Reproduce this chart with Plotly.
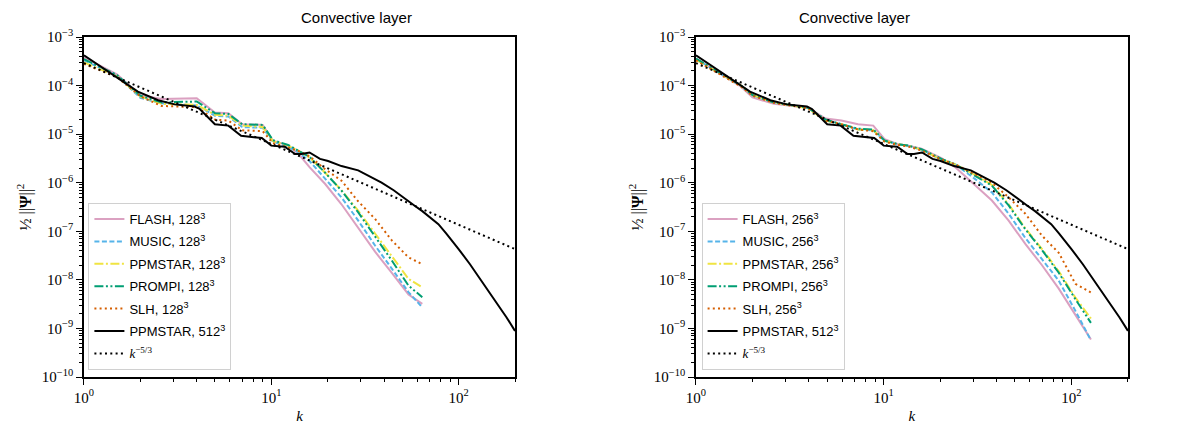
import plotly.graph_objects as go

# Kinetic energy spectra, convective layer

# PPMSTAR 512^3 (same curve on both panels)
k_ref = [1, 1.3, 1.94, 2.49, 3.05, 3.9, 4.15, 5.0, 5.9, 6.9, 8.9, 10.0, 11.8, 13.4,
         14.5, 16.0, 18.2, 20.1, 23.7, 29.1, 35.8, 38.8, 45, 51.8, 58, 64, 71, 78, 86,
         93, 100, 115, 128, 145, 160, 180, 200]
v_ref = [4.2e-4, 2.1e-4, 7.5e-5, 5.0e-5, 4.1e-5, 3.7e-5, 3.3e-5, 1.6e-5, 1.5e-5, 9.3e-6,
         8.3e-6, 5.8e-6, 5.5e-6, 3.9e-6, 3.9e-6, 4.2e-6, 3.1e-6, 2.8e-6, 2.2e-6, 1.8e-6,
         1.2e-6, 1.0e-6, 7.0e-7, 4.6e-7, 3.4e-7, 2.6e-7, 1.9e-7, 1.4e-7, 9.0e-8,
         6.2e-8, 4.3e-8, 2.1e-8, 1.15e-8, 5.8e-9, 3.4e-9, 1.7e-9, 8.9e-10]

# k^-5/3 guide line (end points)
k_kol = [1, 200]
v_kol = [2.9e-4, 4.3e-8]

# 128^3 runs (left panel)
k_128 = [1, 1.5, 2, 2.6, 4.0, 5.0, 5.9, 7.0, 9.0, 10.2, 12.3, 14, 16, 19.4, 23.7, 29,
         35.8, 44, 54, 64]
flash_128 = [3.8e-4, 1.7e-4, 6.3e-5, 5.3e-5, 5.5e-5, 2.8e-5, 2.7e-5, 1.6e-5, 1.55e-5,
             7.3e-6, 5.8e-6, 3.9e-6, 2.1e-6, 9.4e-7, 3.6e-7, 1.2e-7, 3.8e-8, 1.4e-8,
             5.0e-9, 3.2e-9]
music_128 = [3.3e-4, 1.6e-4, 5.6e-5, 4.3e-5, 3.9e-5, 2.4e-5, 2.3e-5, 1.4e-5, 1.35e-5,
             7.0e-6, 5.5e-6, 4.2e-6, 2.8e-6, 1.2e-6, 5.0e-7, 1.7e-7, 5.1e-8, 1.7e-8,
             5.6e-9, 2.7e-9]
ppmstar_128 = [3.0e-4, 1.55e-4, 6.0e-5, 4.2e-5, 4.0e-5, 2.5e-5, 2.4e-5, 1.5e-5, 1.4e-5,
               7.2e-6, 5.8e-6, 4.5e-6, 3.3e-6, 1.6e-6, 7.0e-7, 2.7e-7, 9.0e-8, 3.0e-8,
               1.05e-8, 7.0e-9]
prompi_128 = [3.5e-4, 1.65e-4, 6.2e-5, 4.5e-5, 4.7e-5, 2.7e-5, 2.6e-5, 1.6e-5, 1.55e-5,
              7.5e-6, 6.0e-6, 4.6e-6, 3.4e-6, 1.6e-6, 6.9e-7, 2.5e-7, 8.0e-8, 2.5e-8,
              7.6e-9, 4.4e-9]
slh_128 = [2.8e-4, 1.5e-4, 6.0e-5, 3.8e-5, 3.6e-5, 2.0e-5, 1.9e-5, 1.2e-5, 1.15e-5,
           6.5e-6, 5.3e-6, 4.5e-6, 3.5e-6, 1.9e-6, 1.1e-6, 4.2e-7, 1.8e-7, 6.5e-8,
           2.9e-8, 2.1e-8]

# 256^3 runs (right panel)
k_256 = [1, 1.74, 2, 2.6, 3.95, 4.9, 5.95, 7.3, 8.8, 10.1, 11.9, 13.5, 15.9, 20.3, 24,
         30.6, 37.7, 46.3, 56.8, 69.7, 85.6, 105, 127]
flash_256 = [3.6e-4, 9.5e-5, 5.7e-5, 4.2e-5, 3.5e-5, 2.1e-5, 1.9e-5, 1.6e-5, 1.5e-5,
             7.9e-6, 6.2e-6, 5.8e-6, 5.0e-6, 3.2e-6, 2.1e-6, 9.0e-7, 4.3e-7, 1.66e-7,
             5.5e-8, 2.0e-8, 6.6e-9, 1.9e-9, 5.9e-10]
music_256 = [3.5e-4, 1.0e-4, 6.3e-5, 4.5e-5, 3.5e-5, 1.9e-5, 1.6e-5, 1.25e-5, 1.2e-5,
             7.3e-6, 6.2e-6, 5.8e-6, 4.7e-6, 3.0e-6, 2.4e-6, 1.2e-6, 6.3e-7, 2.3e-7,
             7.3e-8, 2.7e-8, 9.6e-9, 2.3e-9, 5.7e-10]
ppmstar_256 = [3.4e-4, 1.0e-4, 6.4e-5, 4.5e-5, 3.4e-5, 1.9e-5, 1.6e-5, 1.25e-5, 1.2e-5,
               7.3e-6, 6.2e-6, 5.8e-6, 4.8e-6, 3.0e-6, 2.4e-6, 1.45e-6, 9.0e-7, 3.6e-7,
               1.15e-7, 4.3e-8, 1.5e-8, 4.3e-9, 1.6e-9]
prompi_256 = [3.6e-4, 1.0e-4, 6.4e-5, 4.5e-5, 3.5e-5, 2.0e-5, 1.6e-5, 1.3e-5, 1.25e-5,
              7.4e-6, 6.2e-6, 5.8e-6, 4.9e-6, 3.1e-6, 2.4e-6, 1.4e-6, 8.7e-7, 3.4e-7,
              1.1e-7, 4.1e-8, 1.4e-8, 4.0e-9, 1.3e-9]
slh_256 = [3.3e-4, 9.5e-5, 6.2e-5, 4.4e-5, 3.4e-5, 1.9e-5, 1.6e-5, 1.25e-5, 1.15e-5,
           7.0e-6, 6.0e-6, 5.6e-6, 4.6e-6, 3.0e-6, 2.4e-6, 1.5e-6, 1.0e-6, 5.0e-7,
           2.3e-7, 8.1e-8, 3.6e-8, 8.3e-9, 5.5e-9]

names = ["FLASH", "MUSIC", "PPMSTAR", "PROMPI", "SLH"]
colors = ["#cc79a7", "#56b4e9", "#f0e442", "#009e73", "#d55e00"]
dashes = ["solid", "5px,2.5px", "9px,2.5px,2px,2.5px", "9px,2.5px,2px,2.5px,2px,2.5px",
          "2px,3.2px"]
opac = [0.7, 1, 1, 1, 1]

serif = "Liberation Serif, Times New Roman, serif"
sans = "Liberation Sans, Arial, sans-serif"

panels = [
    (1, k_128, [flash_128, music_128, ppmstar_128, prompi_128, slh_128], "128", "legend"),
    (2, k_256, [flash_256, music_256, ppmstar_256, prompi_256, slh_256], "256", "legend2"),
]

fig = go.Figure()
for idx, kk, series, res, leg in panels:
    xa = "x" if idx == 1 else "x2"
    ya = "y" if idx == 1 else "y2"
    for name, col, dash, op, vals in zip(names, colors, dashes, opac, series):
        fig.add_trace(go.Scatter(
            x=kk, y=vals, mode="lines", name=f"{name}, {res}<sup>3</sup>",
            line=dict(color=col, width=2, dash=dash), opacity=op,
            xaxis=xa, yaxis=ya, legend=leg, legendgroup=f"{leg}_{name}"))
    fig.add_trace(go.Scatter(
        x=k_ref, y=v_ref, mode="lines", name="PPMSTAR, 512<sup>3</sup>",
        line=dict(color="black", width=2), xaxis=xa, yaxis=ya,
        legend=leg, legendgroup=f"{leg}_ref"))
    fig.add_trace(go.Scatter(
        x=k_kol, y=v_kol, mode="lines",
        name=f'<span style="font-family:{serif}"><i>k</i><sup>−5/3</sup></span>',
        line=dict(color="black", width=2, dash="2px,3.3px"), xaxis=xa, yaxis=ya,
        legend=leg, legendgroup=f"{leg}_kol"))

x_major = [1, 10, 100]
x_major_txt = ["10<sup>0</sup>", "10<sup>1</sup>", "10<sup>2</sup>"]
x_minor = [m * d for d in (1, 10) for m in range(2, 10)] + [200]
y_major = [10.0 ** e for e in range(-10, -2)]
y_major_txt = [f"10<sup>\u2212{-e}</sup>" for e in range(-10, -2)]
y_minor = [m * 10.0 ** e for e in range(-10, -3) for m in range(2, 10)]

xcommon = dict(
    type="log", range=[0, 2.30103], tickmode="array", tickvals=x_major, ticktext=x_major_txt,
    ticks="outside", ticklen=6, tickwidth=1.2, tickcolor="black", automargin=False,
    minor=dict(tickmode="array", tickvals=x_minor, ticks="outside", ticklen=3,
               tickwidth=1, tickcolor="black", showgrid=False),
    showline=True, linecolor="black", linewidth=1.5, mirror=True, showgrid=False,
    zeroline=False, tickfont=dict(family=serif, size=15, color="black"),
    title=dict(text="<i>k</i>", font=dict(family=serif, size=15, color="black"), standoff=6),
)
ycommon = dict(
    type="log", range=[-10, -3], tickmode="array", tickvals=y_major, ticktext=y_major_txt,
    ticks="outside", ticklen=6, tickwidth=1.2, tickcolor="black", automargin=False,
    minor=dict(tickmode="array", tickvals=y_minor, ticks="outside", ticklen=3,
               tickwidth=1, tickcolor="black", showgrid=False),
    showline=True, linecolor="black", linewidth=1.5, mirror=True, showgrid=False,
    zeroline=False, tickfont=dict(family=serif, size=15, color="black"),
    title=dict(text="½ ||<b>Ψ</b>||<sup>2</sup>", font=dict(family=serif, size=16, color="black"),
               standoff=6),
)

legcommon = dict(
    font=dict(family=sans, size=13, color="black"), bgcolor="rgba(255,255,255,0.8)",
    bordercolor="#d0d0d0", borderwidth=1, xanchor="left", yanchor="top", y=0.54,
    tracegroupgap=2.5, itemwidth=30,
)

fig.update_layout(
    width=1200, height=424, margin=dict(l=0, r=0, t=0, b=0, autoexpand=False),
    paper_bgcolor="white", plot_bgcolor="white", showlegend=True,
    xaxis=dict(domain=[0.0633, 0.4225], anchor="y", **xcommon),
    yaxis=dict(domain=[0.1297, 0.9316], anchor="x", **ycommon),
    xaxis2=dict(domain=[0.5733, 0.9333], anchor="y2", **xcommon),
    yaxis2=dict(domain=[0.1297, 0.9316], anchor="x2", **ycommon),
    legend=dict(x=0.067, **legcommon),
    legend2=dict(x=0.578, **legcommon),
    annotations=[
        dict(text="Convective layer", x=(0.0633 + 0.4225) / 2, y=0.978, xref="paper",
             yref="paper", yanchor="middle", showarrow=False,
             font=dict(family=sans, size=15, color="black")),
        dict(text="Convective layer", x=(0.5733 + 0.9333) / 2, y=0.978, xref="paper",
             yref="paper", yanchor="middle", showarrow=False,
             font=dict(family=sans, size=15, color="black")),
    ],
)

fig.write_html("out.html")
